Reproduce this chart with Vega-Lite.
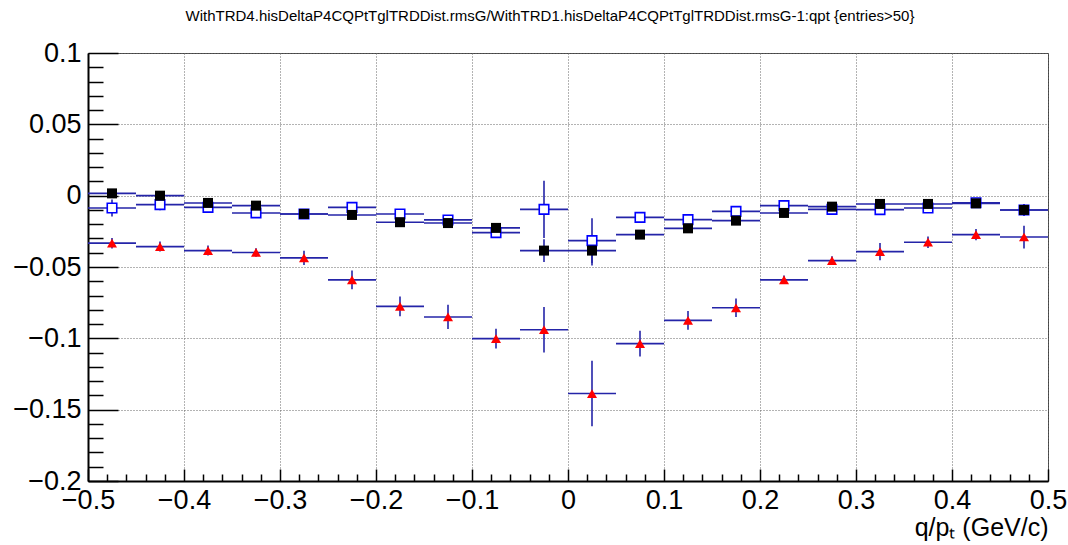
{
 "$schema": "https://vega.github.io/schema/vega-lite/v6.json",
 "width": 960,
 "height": 428,
 "autosize": "none",
 "padding": {"left": 88, "top": 53, "right": 20, "bottom": 64},
 "background": "white",
 "title": {"text": "WithTRD4.hisDeltaP4CQPtTglTRDDist.rmsG/WithTRD1.hisDeltaP4CQPtTglTRDDist.rmsG-1:qpt {entries>50}", "fontSize": 15, "font": "Liberation Sans", "fontWeight": "normal", "anchor": "middle", "offset": 15, "dx": -18, "color": "black"},
 "config": {
  "view": {"stroke": "#444", "strokeWidth": 1},
  "axis": {"labelFont": "Liberation Sans", "labelFontSize": 27, "labelColor": "black", "titleFont": "Liberation Sans", "titleFontWeight": "normal", "titleColor": "black", "domainColor": "black", "domainWidth": 2, "tickColor": "black", "tickWidth": 1.5, "gridColor": "#666", "gridDash": [1, 2], "gridWidth": 1, "labelFlush": false, "labelOverlap": false, "labelBound": false}
 },
 "data": {"values": [
  {"s": "A", "x": -0.475, "x0": -0.5, "x1": -0.45, "y": 0.0016, "e": 0.003},
  {"s": "A", "x": -0.425, "x0": -0.45, "x1": -0.4, "y": 0.0, "e": 0.003},
  {"s": "A", "x": -0.375, "x0": -0.4, "x1": -0.35, "y": -0.0051, "e": 0.003},
  {"s": "A", "x": -0.325, "x0": -0.35, "x1": -0.3, "y": -0.007, "e": 0.003},
  {"s": "A", "x": -0.275, "x0": -0.3, "x1": -0.25, "y": -0.0128, "e": 0.003},
  {"s": "A", "x": -0.225, "x0": -0.25, "x1": -0.2, "y": -0.0135, "e": 0.003},
  {"s": "A", "x": -0.175, "x0": -0.2, "x1": -0.15, "y": -0.0186, "e": 0.003},
  {"s": "A", "x": -0.125, "x0": -0.15, "x1": -0.1, "y": -0.0192, "e": 0.003},
  {"s": "A", "x": -0.075, "x0": -0.1, "x1": -0.05, "y": -0.0226, "e": 0.003},
  {"s": "A", "x": -0.025, "x0": -0.05, "x1": 0.0, "y": -0.0385, "e": 0.008},
  {"s": "A", "x": 0.025, "x0": 0.0, "x1": 0.05, "y": -0.0385, "e": 0.0105},
  {"s": "A", "x": 0.075, "x0": 0.05, "x1": 0.1, "y": -0.0273, "e": 0.003},
  {"s": "A", "x": 0.125, "x0": 0.1, "x1": 0.15, "y": -0.0229, "e": 0.003},
  {"s": "A", "x": 0.175, "x0": 0.15, "x1": 0.2, "y": -0.0175, "e": 0.003},
  {"s": "A", "x": 0.225, "x0": 0.2, "x1": 0.25, "y": -0.0121, "e": 0.003},
  {"s": "A", "x": 0.275, "x0": 0.25, "x1": 0.3, "y": -0.0077, "e": 0.003},
  {"s": "A", "x": 0.325, "x0": 0.3, "x1": 0.35, "y": -0.0058, "e": 0.003},
  {"s": "A", "x": 0.375, "x0": 0.35, "x1": 0.4, "y": -0.0058, "e": 0.003},
  {"s": "A", "x": 0.425, "x0": 0.4, "x1": 0.45, "y": -0.0054, "e": 0.003},
  {"s": "A", "x": 0.475, "x0": 0.45, "x1": 0.5, "y": -0.01, "e": 0.004},
  {"s": "B", "x": -0.475, "x0": -0.5, "x1": -0.45, "y": -0.0086, "e": 0.006},
  {"s": "B", "x": -0.425, "x0": -0.45, "x1": -0.4, "y": -0.0063, "e": 0.004},
  {"s": "B", "x": -0.375, "x0": -0.4, "x1": -0.35, "y": -0.0082, "e": 0.003},
  {"s": "B", "x": -0.325, "x0": -0.35, "x1": -0.3, "y": -0.0121, "e": 0.003},
  {"s": "B", "x": -0.275, "x0": -0.3, "x1": -0.25, "y": -0.0128, "e": 0.002},
  {"s": "B", "x": -0.225, "x0": -0.25, "x1": -0.2, "y": -0.0082, "e": 0.002},
  {"s": "B", "x": -0.175, "x0": -0.2, "x1": -0.15, "y": -0.0128, "e": 0.002},
  {"s": "B", "x": -0.125, "x0": -0.15, "x1": -0.1, "y": -0.017, "e": 0.002},
  {"s": "B", "x": -0.075, "x0": -0.1, "x1": -0.05, "y": -0.0259, "e": 0.002},
  {"s": "B", "x": -0.025, "x0": -0.05, "x1": 0.0, "y": -0.0096, "e": 0.02},
  {"s": "B", "x": 0.025, "x0": 0.0, "x1": 0.05, "y": -0.0315, "e": 0.0157},
  {"s": "B", "x": 0.075, "x0": 0.05, "x1": 0.1, "y": -0.0152, "e": 0.002},
  {"s": "B", "x": 0.125, "x0": 0.1, "x1": 0.15, "y": -0.0168, "e": 0.002},
  {"s": "B", "x": 0.175, "x0": 0.15, "x1": 0.2, "y": -0.011, "e": 0.002},
  {"s": "B", "x": 0.225, "x0": 0.2, "x1": 0.25, "y": -0.007, "e": 0.002},
  {"s": "B", "x": 0.275, "x0": 0.25, "x1": 0.3, "y": -0.0096, "e": 0.003},
  {"s": "B", "x": 0.325, "x0": 0.3, "x1": 0.35, "y": -0.0098, "e": 0.003},
  {"s": "B", "x": 0.375, "x0": 0.35, "x1": 0.4, "y": -0.0086, "e": 0.003},
  {"s": "B", "x": 0.425, "x0": 0.4, "x1": 0.45, "y": -0.005, "e": 0.003},
  {"s": "B", "x": 0.475, "x0": 0.45, "x1": 0.5, "y": -0.01, "e": 0.004},
  {"s": "C", "x": -0.475, "x0": -0.5, "x1": -0.45, "y": -0.0333, "e": 0.0037},
  {"s": "C", "x": -0.425, "x0": -0.45, "x1": -0.4, "y": -0.0357, "e": 0.0035},
  {"s": "C", "x": -0.375, "x0": -0.4, "x1": -0.35, "y": -0.0385, "e": 0.0035},
  {"s": "C", "x": -0.325, "x0": -0.35, "x1": -0.3, "y": -0.0398, "e": 0.003},
  {"s": "C", "x": -0.275, "x0": -0.3, "x1": -0.25, "y": -0.0436, "e": 0.005},
  {"s": "C", "x": -0.225, "x0": -0.25, "x1": -0.2, "y": -0.059, "e": 0.0066},
  {"s": "C", "x": -0.175, "x0": -0.2, "x1": -0.15, "y": -0.0776, "e": 0.007},
  {"s": "C", "x": -0.125, "x0": -0.15, "x1": -0.1, "y": -0.085, "e": 0.0085},
  {"s": "C", "x": -0.075, "x0": -0.1, "x1": -0.05, "y": -0.1002, "e": 0.007},
  {"s": "C", "x": -0.025, "x0": -0.05, "x1": 0.0, "y": -0.094, "e": 0.016},
  {"s": "C", "x": 0.025, "x0": 0.0, "x1": 0.05, "y": -0.1387, "e": 0.023},
  {"s": "C", "x": 0.075, "x0": 0.05, "x1": 0.1, "y": -0.1037, "e": 0.009},
  {"s": "C", "x": 0.125, "x0": 0.1, "x1": 0.15, "y": -0.0874, "e": 0.0066},
  {"s": "C", "x": 0.175, "x0": 0.15, "x1": 0.2, "y": -0.0786, "e": 0.0065},
  {"s": "C", "x": 0.225, "x0": 0.2, "x1": 0.25, "y": -0.059, "e": 0.003},
  {"s": "C", "x": 0.275, "x0": 0.25, "x1": 0.3, "y": -0.0455, "e": 0.003},
  {"s": "C", "x": 0.325, "x0": 0.3, "x1": 0.35, "y": -0.0392, "e": 0.006},
  {"s": "C", "x": 0.375, "x0": 0.35, "x1": 0.4, "y": -0.0326, "e": 0.004},
  {"s": "C", "x": 0.425, "x0": 0.4, "x1": 0.45, "y": -0.0273, "e": 0.004},
  {"s": "C", "x": 0.475, "x0": 0.45, "x1": 0.5, "y": -0.029, "e": 0.008}
 ]},
 "encoding": {
  "x": {"field": "x", "type": "quantitative", "scale": {"domain": [-0.5, 0.5], "nice": false, "zero": false},
    "axis": {"orient": "bottom", "title": "q/pₜ (GeV/c)", "titleFontSize": 25, "titleAnchor": "end", "titleAlign": "right", "titlePadding": -3,
      "values": [-0.5,-0.48,-0.46,-0.44,-0.42,-0.4,-0.38,-0.36,-0.34,-0.32,-0.3,-0.28,-0.26,-0.24,-0.22,-0.2,-0.18,-0.16,-0.14,-0.12,-0.1,-0.08,-0.06,-0.04,-0.02,0,0.02,0.04,0.06,0.08,0.1,0.12,0.14,0.16,0.18,0.2,0.22,0.24,0.26,0.28,0.3,0.32,0.34,0.36,0.38,0.4,0.42,0.44,0.46,0.48,0.5],
      "tickSize": {"condition": {"test": "abs(datum.value*10 - round(datum.value*10)) < 0.001", "value": -12}, "value": -7},
      "gridOpacity": {"condition": {"test": "abs(datum.value*10 - round(datum.value*10)) < 0.001", "value": 1}, "value": 0},
      "labelExpr": "abs(datum.value*10 - round(datum.value*10)) < 0.001 ? format(datum.value, '~g') : ''",
      "labelPadding": 18}},
  "y": {"field": "y", "type": "quantitative", "scale": {"domain": [-0.2, 0.1], "nice": false, "zero": false},
    "axis": {"orient": "left", "title": null,
      "values": [-0.2,-0.19,-0.18,-0.17,-0.16,-0.15,-0.14,-0.13,-0.12,-0.11,-0.1,-0.09,-0.08,-0.07,-0.06,-0.05,-0.04,-0.03,-0.02,-0.01,0,0.01,0.02,0.03,0.04,0.05,0.06,0.07,0.08,0.09,0.1],
      "tickSize": {"condition": {"test": "abs(datum.value*20 - round(datum.value*20)) < 0.001", "value": -30}, "value": -15},
      "gridOpacity": {"condition": {"test": "abs(datum.value*20 - round(datum.value*20)) < 0.001", "value": 1}, "value": 0},
      "labelExpr": "abs(datum.value*20 - round(datum.value*20)) < 0.001 ? format(datum.value, '~g') : ''",
      "labelPadding": 37}}
 },
 "layer": [
  {
   "mark": {"type": "rule", "color": "#2424a8", "strokeWidth": 1.6},
   "encoding": {
    "x": {"field": "x0", "type": "quantitative"},
    "x2": {"field": "x1"}
   }
  },
  {
   "mark": {"type": "errorbar", "color": "#2424a8", "thickness": 1.6},
   "encoding": {
    "yError": {"field": "e"}
   }
  },
  {
   "transform": [{"filter": "datum.s == 'B'"}],
   "mark": {"type": "point", "shape": "square", "filled": true, "fill": "white", "stroke": "#0000ff", "strokeWidth": 1.6, "size": 90, "opacity": 1},
   "encoding": {}
  },
  {
   "transform": [{"filter": "datum.s == 'A'"}],
   "mark": {"type": "point", "shape": "square", "filled": true, "color": "black", "size": 100, "opacity": 1},
   "encoding": {}
  },
  {
   "transform": [{"filter": "datum.s == 'C'"}],
   "mark": {"type": "point", "shape": "triangle-up", "filled": true, "color": "#ff0000", "size": 100, "opacity": 1},
   "encoding": {}
  }
 ]
}
